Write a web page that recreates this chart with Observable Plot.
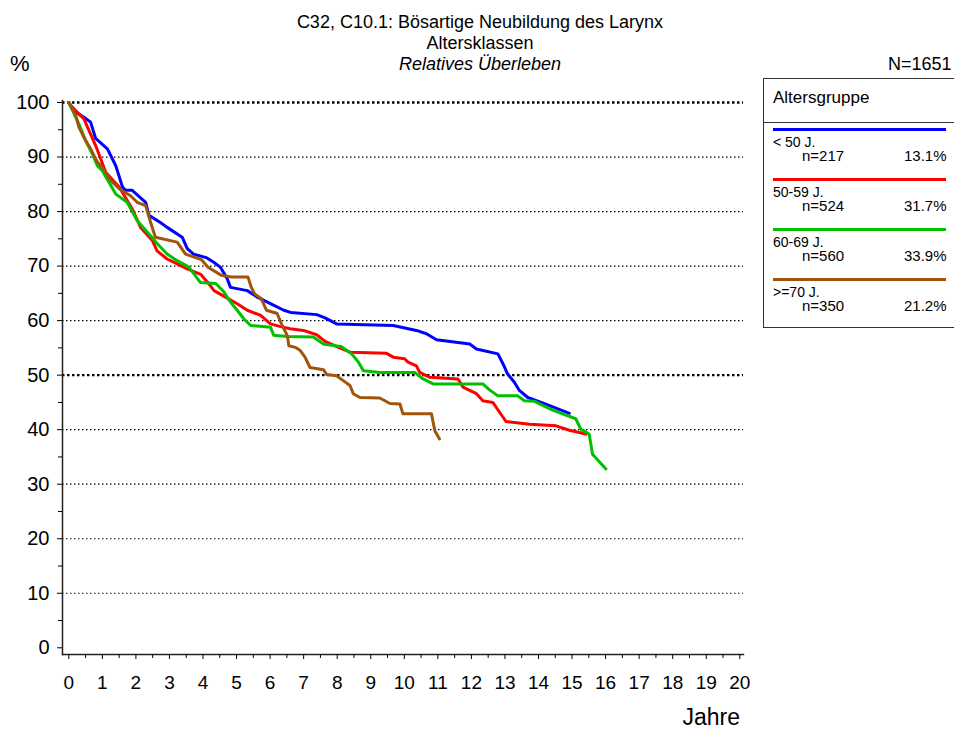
<!DOCTYPE html>
<html>
<head>
<meta charset="utf-8">
<script src="https://cdn.jsdelivr.net/npm/d3@7"></script>
<script src="https://cdn.jsdelivr.net/npm/@observablehq/plot@0.6"></script>
<style>
  html, body { margin: 0; padding: 0; background: #fff; }
  body { width: 954px; height: 730px; position: relative; overflow: hidden; font-family: "Liberation Sans", Arial, sans-serif; color: #000; }
  #chart { position: absolute; left: 0; top: 0; }
  .title { position: absolute; left: 280px; width: 400px; text-align: center; font-size: 18px; line-height: 21px; }
  #legend { position: absolute; left: 763px; top: 78px; width: 220px; height: 250px; border: 1px solid #333; box-sizing: border-box; }
  .lt { position: absolute; white-space: nowrap; }
</style>
</head>
<body>
<div id="chart"></div>
<div class="title" style="top:12px">C32, C10.1: Bösartige Neubildung des Larynx</div>
<div class="title" style="top:33px">Altersklassen</div>
<div class="title" style="top:54px;font-style:italic">Relatives Überleben</div>
<div class="lt" style="left:10px;top:51px;font-size:22px">%</div>
<div class="lt" id="ntotal" style="left:888px;top:54px;font-size:18px">N=1651</div>
<div id="legend"></div>
<script>
// ---- data ----
const groups = ["< 50 J.", "50-59 J.", "60-69 J.", ">=70 J."];
const nValues = [217, 524, 560, 350];
const pctValues = ["13.1%", "31.7%", "33.9%", "21.2%"];
const colors = ["#0000ff", "#ff0000", "#00c000", "#a0550a"];
const totalN = 1651;

const tBlue = [0,0.21,0.45,0.65,0.8,1.15,1.4,1.6,1.69,1.89,2.29,2.39,2.73,2.93,3.38,3.53,3.72,4.12,4.32,4.52,4.72,4.82,5.32,5.62,6.01,6.41,6.61,7.39,7.64,7.98,9.67,10.36,10.66,10.96,11.95,12.15,12.79,12.94,13.08,13.28,13.43,13.68,14.22,14.92];
const vBlue = [100,98.2,97.3,96.4,93.4,91.5,88.4,84.5,83.9,83.9,81.7,79.3,78,77.1,75.3,73.2,72.2,71.5,70.7,69.8,67.7,66.1,65.5,64.3,63.1,61.9,61.5,61.1,60.5,59.4,59.1,58.2,57.6,56.5,55.7,54.8,53.9,52.1,50.2,48.7,47.2,45.9,44.7,43];

const tRed = [0,0.06,0.45,0.6,0.8,0.95,1.1,1.5,1.89,2.14,2.49,2.63,2.93,3.23,3.53,3.93,4.13,4.33,4.67,5.02,5.32,5.71,6.01,6.31,6.6,6.99,7.39,7.64,8.04,8.38,9.47,9.67,10.01,10.11,10.36,10.46,10.76,11.6,11.75,12.15,12.34,12.64,12.84,13.03,13.73,14.52,14.92,15.41];
const vRed = [100,99.4,97,94.9,92.1,89.7,87.2,84.5,80.5,77.1,74.7,72.8,71.3,70.4,69.5,68.5,67.1,65.5,64.3,63.1,61.9,61,59.4,58.9,58.5,58.2,57.4,56.2,55.1,54.2,54,53.3,53,52.4,51.7,50.5,49.6,49.3,47.8,46.6,45.3,45,43.2,41.5,41,40.7,39.9,39.2];

const tGreen = [0,0.3,0.5,0.7,0.85,1,1.4,1.74,2.04,2.39,2.64,2.93,3.23,3.58,3.92,4.38,4.62,4.82,5.02,5.22,5.42,6.01,6.11,6.51,7.29,7.59,8.13,8.43,8.63,8.78,9.27,10.31,10.56,10.86,12.34,12.54,12.79,13.38,13.58,13.88,14.42,15.11,15.26,15.51,15.61,16.01];
const vGreen = [100,96.1,93,90.6,88.4,87.5,83.2,81.7,78.3,75.9,74.1,72.2,71,69.8,67,66.8,65.3,63.4,61.9,60.3,59.1,58.8,57.3,57.1,57,55.7,55.2,53.9,52.4,50.8,50.5,50.5,49.3,48.4,48.4,47.3,46.2,46.2,45.3,45.2,43.6,42,40.1,39.2,35.5,32.8];

const tBrown = [0,0.21,0.3,0.45,0.65,0.85,1,1.25,1.5,1.84,2.04,2.29,2.44,2.58,3.23,3.48,3.95,4.15,4.55,4.85,5.34,5.44,5.54,5.74,5.89,6.21,6.36,6.51,6.56,6.75,6.9,7.04,7.19,7.59,7.69,7.98,8.18,8.38,8.48,8.68,9.27,9.57,9.87,9.96,10.81,10.91,11.05];
const vBrown = [100,97.6,95.5,93.6,91.5,89.1,88.1,85.7,84.2,82.9,81.7,81.1,78,75.3,74.4,72.2,71.2,69.8,68.3,68,68,66.1,64.9,64,61.9,61.3,59.1,57.3,55.4,55.1,54.5,53.3,51.4,51,50.1,49.9,49,48.1,46.6,45.9,45.8,44.8,44.7,42.9,42.9,39.8,38.3];

const yMajor = [0,10,20,30,40,50,60,70,80,90,100];
const yMinor = [5,15,25,35,45,55,65,75,85,95];
const xMajor = d3.range(0, 21);
const xMinor = d3.range(0.5, 20, 1);
const gridThin = [10,20,30,40,60,70,80,90];
const gridBold = [50,100];

// ---- build table ----
const seriesT = [tBlue, tRed, tGreen, tBrown];
const seriesV = [vBlue, vRed, vGreen, vBrown];
const rows = [];
groups.forEach((g, i) => seriesT[i].forEach((t, j) => rows.push({group: g, t, v: seriesV[i][j]})));

const chart = Plot.plot({
  width: 954,
  height: 730,
  marginLeft: 62,
  marginRight: 211,
  marginTop: 100,
  marginBottom: 76,
  style: {fontFamily: "'Liberation Sans', Arial, sans-serif", fontSize: "19px", color: "#000", background: "transparent"},
  x: {domain: [0, 20], range: [68.3, 739.3]},
  y: {domain: [0, 100], range: [647.3, 102]},
  color: {domain: groups, range: colors},
  marks: [
    Plot.ruleY(gridThin, {stroke: "#000", strokeWidth: 1.2, strokeDasharray: "1.5,2.5"}),
    Plot.ruleY(gridBold, {stroke: "#000", strokeWidth: 2.4, strokeDasharray: "2.5,2.5"}),
    Plot.frame({anchor: "left", stroke: "#222", strokeWidth: 1.5}),
    Plot.frame({anchor: "bottom", stroke: "#222", strokeWidth: 1.5}),
    Plot.axisY({ticks: yMajor, tickSize: 5, tickPadding: 8, label: null, tickFormat: d => String(d), fontSize: 20}),
    Plot.axisY({ticks: yMinor, tickSize: 4, tickFormat: null, label: null, text: null}),
    Plot.axisX({ticks: xMajor, tickSize: 5, tickPadding: 16, label: null, tickFormat: d => String(d), fontSize: 19}),
    Plot.axisX({ticks: xMinor, tickSize: 4, label: null, text: null}),
    Plot.line(rows, {x: "t", y: "v", z: "group", stroke: "group", strokeWidth: 3, strokeLinejoin: "round"})
  ]
});
document.getElementById("chart").appendChild(chart);

// x axis label
const svg = d3.select(chart);
svg.append("text").attr("x", 740).attr("y", 725).attr("text-anchor", "end")
  .attr("font-size", 23).attr("font-family", "'Liberation Sans', Arial, sans-serif").text("Jahre");

// ---- legend ----
document.getElementById("ntotal").textContent = "N=" + totalN;
const legend = document.getElementById("legend");
const hdr = document.createElement("div");
hdr.className = "lt"; hdr.style.cssText = "left:9px;top:9px;font-size:17px"; hdr.textContent = "Altersgruppe";
legend.appendChild(hdr);
const sep = document.createElement("div");
sep.style.cssText = "position:absolute;left:0;right:0;top:43px;height:0;border-top:1px solid #333";
legend.appendChild(sep);
groups.forEach((g, i) => {
  const top = 49 + i * 50;
  const line = document.createElement("div");
  line.style.cssText = `position:absolute;left:9px;width:173px;top:${top}px;height:3px;background:${colors[i]}`;
  legend.appendChild(line);
  const lab = document.createElement("div");
  lab.className = "lt"; lab.style.cssText = `left:9px;top:${top + 6}px;font-size:14px`; lab.textContent = g;
  legend.appendChild(lab);
  const n = document.createElement("div");
  n.className = "lt"; n.style.cssText = `left:38px;top:${top + 19}px;font-size:15px`; n.textContent = "n=" + nValues[i];
  legend.appendChild(n);
  const p = document.createElement("div");
  p.className = "lt"; p.style.cssText = `left:140px;width:42px;text-align:right;top:${top + 19}px;font-size:15px`; p.textContent = pctValues[i];
  legend.appendChild(p);
});
</script>
</body>
</html>
